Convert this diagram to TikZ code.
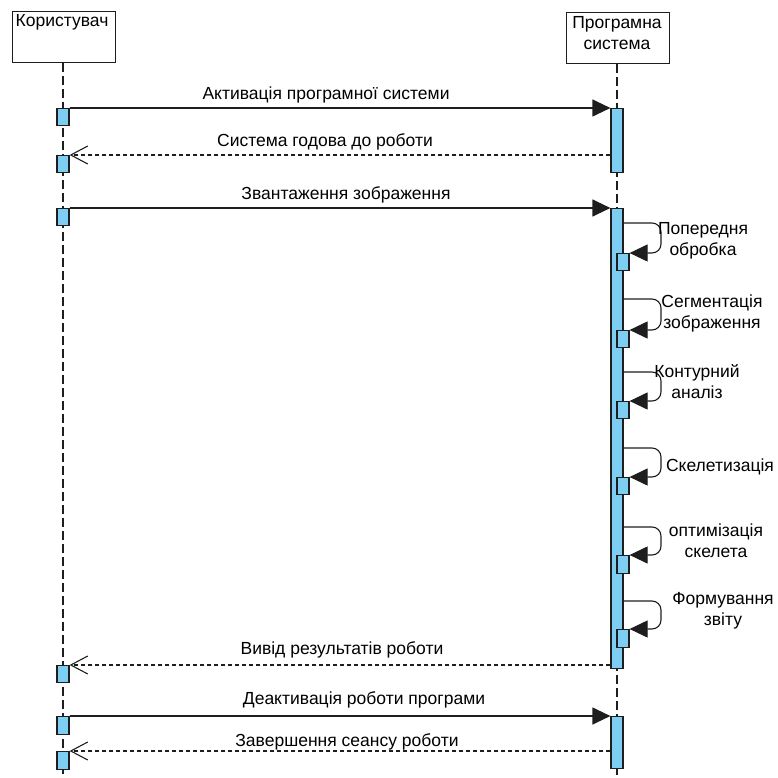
\documentclass[tikz,border=0pt]{standalone}
\usepackage{fontspec}
\setmainfont{Liberation Sans}
\usetikzlibrary{arrows.meta,calc}
\definecolor{actblue}{RGB}{126,206,244}
\definecolor{linegray}{RGB}{30,30,30}
\begin{document}
\begin{tikzpicture}[x=1pt,y=-1pt,
  every node/.style={font=\fontsize{17.5}{21}\selectfont},
  actor/.style={draw=linegray,line width=1.3pt,fill=white,minimum width=103pt,minimum height=51pt,anchor=north west,inner sep=0pt},
  txt/.style={inner sep=0pt,align=center},
  act/.style={draw=linegray,line width=1.2pt,fill=actblue,minimum width=12pt,anchor=north,inner sep=0pt},
  life/.style={draw=linegray,line width=1.2pt,dash pattern=on 9pt off 4pt},
  msg/.style={draw=linegray,line width=1.2pt,-{Triangle[length=18pt,width=17pt]}},
  ret/.style={draw=linegray,line width=1.1pt,dash pattern=on 4pt off 3pt,-{Straight Barb[length=17pt,width=18pt,line width=1.1pt]}},
  selfc/.style={draw=linegray,line width=1.1pt,rounded corners=9pt,-{Triangle[length=18pt,width=17pt]}}
]
\useasboundingbox (0,0) rectangle (777,778);
% actors
\node[actor] (u) at (12,11) {};
\node[actor] (s) at (566,12) {};
\node[txt] (ut) at (62,22) {Користувач};
\node[txt] (st) at (617,33) {Програмна\\система};
% lifelines
\coordinate (uend) at (63,778);
\coordinate (send) at (617,778);
\draw[life] (u.south -| uend) -- (uend);
\draw[life] (s.south -| send) -- (send);
% activations left
\node[act,minimum height=17pt] (la1) at (63,108) {};
\node[act,minimum height=17pt] (la2) at (63,155) {};
\node[act,minimum height=17pt] (la3) at (63,208) {};
\node[act,minimum height=17pt] (la4) at (63,665) {};
\node[act,minimum height=18pt] (la5) at (63,716) {};
\node[act,minimum height=18pt] (la6) at (63,751) {};
% activations right
\node[act,minimum height=64pt] (ra1) at (617,108) {};
\node[act,minimum height=460pt] (ra2) at (617,208) {};
\node[act,minimum height=52pt] (ra3) at (617,716) {};
% self activations
\node[act,minimum height=17pt] (s1) at (623,253) {};
\node[act,minimum height=17pt] (s2) at (623,330) {};
\node[act,minimum height=17pt] (s3) at (623,401) {};
\node[act,minimum height=17pt] (s4) at (623,477) {};
\node[act,minimum height=18pt] (s5) at (623,555) {};
\node[act,minimum height=18pt] (s6) at (623,629) {};
% messages
\draw[msg] (la1.north east) -- (ra1.north west);
\node[txt] (m1) at (326,95) {Активація програмної системи};
\draw[ret] (ra1.west |- la2.north) -- (la2.north east);
\node[txt] (m2) at (325,142) {Система годова до роботи};
\draw[msg] (la3.north east) -- (ra2.north west);
\node[txt] (m3) at (346,195) {Звантаження зображення};
\draw[ret] (ra2.west |- la4.north) -- (la4.north east);
\node[txt] (m4) at (342,650) {Вивід результатів роботи};
\draw[msg] (la5.north east) -- (ra3.north west);
\node[txt] (m5) at (364,700) {Деактивація роботи програми};
\draw[ret] (ra3.west |- la6.north) -- (la6.north east);
\node[txt] (m6) at (347,742) {Завершення сеансу роботи};
% self calls
\foreach \b/\y in {s1/223,s2/299,s3/372,s4/448,s5/527,s6/601}{
  \draw[selfc] (ra2.east |- 0,\y) -- (661,\y) -- (661,0 |- \b.north) -- (\b.north east);
}
\node[txt] (c1) at (703,241) {Попередня\\обробка};
\node[txt] (c2) at (712,313) {Сегментація\\зображення};
\node[txt] (c3) at (697,382) {Контурний\\аналіз};
\node[txt] (c4) at (720,467) {Скелетизація};
\node[txt] (c5) at (716,541) {оптимізація\\скелета};
\node[txt] (c6) at (723,611) {Формування\\звіту};
\end{tikzpicture}
\end{document}
